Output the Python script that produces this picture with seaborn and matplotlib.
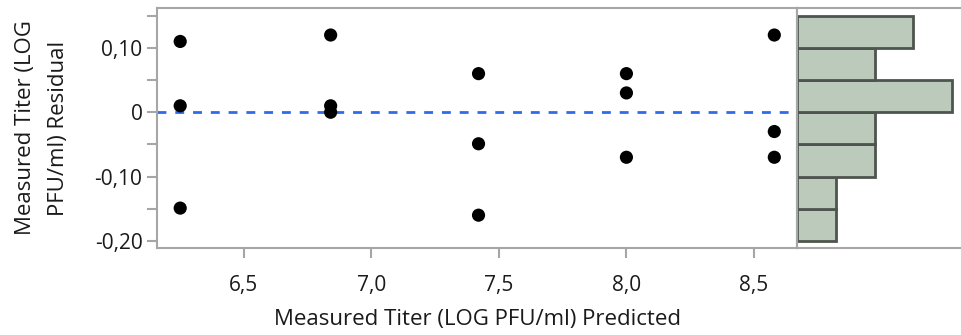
import numpy as np
import matplotlib
matplotlib.use("Agg")
import matplotlib.pyplot as plt
from matplotlib.ticker import FixedLocator, FuncFormatter
import seaborn as sns

# residuals by predicted titer
predicted = [6.25, 6.25, 6.25,
             6.84, 6.84, 6.84,
             7.42, 7.42, 7.42,
             8.00, 8.00, 8.00,
             8.58, 8.58, 8.58]
residual = [0.11, 0.01, -0.149,
            0.12, 0.01, 0.0,
            0.06, -0.049, -0.16,
            0.06, 0.03, -0.07,
            0.12, -0.03, -0.07]
bin_edges = [-0.20, -0.15, -0.10, -0.05, 0.0, 0.05, 0.10, 0.15]
y_major = [-0.20, -0.10, 0.0, 0.10]
y_minor = [-0.15, -0.05, 0.05, 0.15]
x_ticks = [6.5, 7.0, 7.5, 8.0, 8.5]

sns.set_style("white")
plt.rcParams["font.family"] = ["Open Sans", "DejaVu Sans"]

frame = "#a6a6a6"
txt = "#1a1a1a"

fig = plt.figure(figsize=(9.61, 3.35), dpi=100)
ax = fig.add_axes([157 / 961, 87 / 335, 640 / 961, 240 / 335])
axh = fig.add_axes([797 / 961, 87 / 335, 170 / 961, 240 / 335])

ax.axhline(0, color="#2f6be8", lw=2, ls=(0, (3.2, 3.2)), zorder=1)
sns.scatterplot(x=predicted, y=residual, ax=ax, color="black", s=90,
                edgecolor="none", zorder=3)

ax.set_xlim(6.159, 8.669)
ax.set_ylim(-0.211, 0.162)

def comma(v, pos):
    if abs(v) < 1e-9:
        return "0"
    return f"{v:.2f}".replace(".", ",")

ax.yaxis.set_major_locator(FixedLocator(y_major))
ax.yaxis.set_minor_locator(FixedLocator(y_minor))
ax.yaxis.set_major_formatter(FuncFormatter(comma))
ax.xaxis.set_major_locator(FixedLocator(x_ticks))
ax.xaxis.set_major_formatter(FuncFormatter(lambda v, p: f"{v:.1f}".replace(".", ",")))

ax.tick_params(axis="both", which="both", direction="out", length=7.5,
               width=1.5, color=frame, labelsize=15, labelcolor=txt,
               left=True, bottom=True)
ax.tick_params(axis="x", pad=12)
ax.tick_params(axis="y", pad=3)

for sp in ax.spines.values():
    sp.set_visible(True)
    sp.set_color(frame)
    sp.set_linewidth(1.5)

ax.set_xlabel("Measured Titer (LOG PFU/ml) Predicted", fontsize=16,
              color=txt, labelpad=9)
ax.set_ylabel("Measured Titer (LOG\nPFU/ml) Residual", fontsize=16,
              color=txt, linespacing=1.75)
ax.yaxis.set_label_coords(-0.138, 0.5)

sns.histplot(y=residual, bins=bin_edges, ax=axh, color="#bccabb",
             edgecolor="#4e544e", linewidth=2, alpha=1)
axh.set_ylim(ax.get_ylim())
axh.set_xlim(0, 4.38)
axh.set_xticks([])
axh.set_yticks([])
axh.set_xlabel("")
axh.set_ylabel("")
for name, sp in axh.spines.items():
    sp.set_color(frame)
    sp.set_linewidth(1.5)
    sp.set_visible(name != "right")

fig.savefig("out.png", dpi=100)
